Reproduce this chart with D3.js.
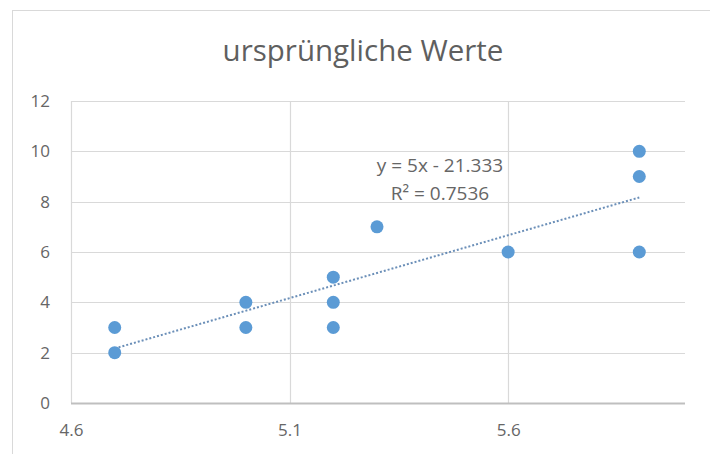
<!DOCTYPE html>
<html><head><meta charset="utf-8">
<script src="https://cdn.jsdelivr.net/npm/d3@7"></script>
<style>html,body{margin:0;padding:0;background:#fff;}svg{display:block;}</style>
</head><body>
<script>
const title = "ursprüngliche Werte";
const xValues = [4.7, 4.7, 5.0, 5.0, 5.2, 5.2, 5.2, 5.3, 5.6, 5.9, 5.9, 5.9];
const yValues = [3, 2, 4, 3, 5, 4, 3, 7, 6, 10, 9, 6];
const xTicks = [4.6, 5.1, 5.6];
const yTicks = [0, 2, 4, 6, 8, 10, 12];
const eqLabel = "y = 5x - 21.333";
const r2Label = "R² = 0.7536";

const W = 710, H = 454;
const font = "'Open Sans', 'Noto Sans', sans-serif";
const svg = d3.select("body").append("svg").attr("width", W).attr("height", H);
svg.append("rect").attr("x", 12.5).attr("y", 10.5).attr("width", 710).attr("height", 460)
  .attr("fill", "#fff").attr("stroke", "#d9d9d9");

const x = d3.scaleLinear().domain([4.6, 6.0]).range([71, 683]);
const y = d3.scaleLinear().domain([0, 12]).range([403, 101]);

svg.append("text").attr("x", 363).attr("y", 61).attr("text-anchor", "middle")
  .attr("font-family", font).attr("font-size", 29.5).attr("fill", "#5f5f5f").text(title);

// gridlines
const g = svg.append("g");
g.selectAll("line.h").data(yTicks.filter(d => d > 0)).join("line")
  .attr("x1", x(4.6)).attr("x2", 685).attr("y1", d => Math.round(y(d)) + 0.5).attr("y2", d => Math.round(y(d)) + 0.5)
  .attr("stroke", "#d9d9d9").attr("stroke-width", 1.2);
g.selectAll("line.v").data(xTicks).join("line")
  .attr("y1", y(0)).attr("y2", y(12)).attr("x1", d => Math.round(x(d)) + 0.5).attr("x2", d => Math.round(x(d)) + 0.5)
  .attr("stroke", "#d9d9d9").attr("stroke-width", 1.2);

// axes
const xAxis = d3.axisBottom(x).tickValues(xTicks).tickSize(0).tickPadding(20).tickFormat(d3.format(".1f"));
const xa = svg.append("g").attr("transform", `translate(0,${Math.round(y(0)) + 0.5})`).call(xAxis);
xa.select(".domain").attr("d", `M${x(4.6)},0H685`).attr("stroke", "#bfbfbf").attr("stroke-width", 1.8);
xa.selectAll("text").attr("font-family", font).attr("font-size", 17).attr("fill", "#666");

const yAxis = d3.axisLeft(y).tickValues(yTicks).tickSize(0).tickPadding(21);
const ya = svg.append("g").attr("transform", `translate(${x(4.6)},0)`).call(yAxis);
ya.select(".domain").remove();
ya.selectAll("text").attr("font-family", font).attr("font-size", 17).attr("fill", "#666");

// trendline (least squares)
const n = xValues.length;
const mx = d3.mean(xValues), my = d3.mean(yValues);
let sxy = 0, sxx = 0;
for (let i = 0; i < n; i++) { sxy += (xValues[i] - mx) * (yValues[i] - my); sxx += (xValues[i] - mx) ** 2; }
const slope = sxy / sxx, icpt = my - slope * mx;
const x0 = d3.min(xValues), x1 = d3.max(xValues);
svg.append("line").attr("x1", x(x0)).attr("y1", y(slope * x0 + icpt)).attr("x2", x(x1)).attr("y2", y(slope * x1 + icpt))
  .attr("stroke", "#6b8fb8").attr("stroke-width", 2).attr("stroke-dasharray", "2,2");

// points
svg.selectAll("circle").data(xValues.map((d, i) => [d, yValues[i]])).join("circle")
  .attr("cx", d => x(d[0])).attr("cy", d => y(d[1])).attr("r", 6.5).attr("fill", "#5b9bd5");

// equation label
svg.append("text").attr("x", 440).attr("y", 172).attr("text-anchor", "middle")
  .attr("font-family", font).attr("font-size", 19).attr("fill", "#666").text(eqLabel);
svg.append("text").attr("x", 440).attr("y", 200).attr("text-anchor", "middle")
  .attr("font-family", font).attr("font-size", 19).attr("fill", "#666").text(r2Label);
</script>
</body></html>
